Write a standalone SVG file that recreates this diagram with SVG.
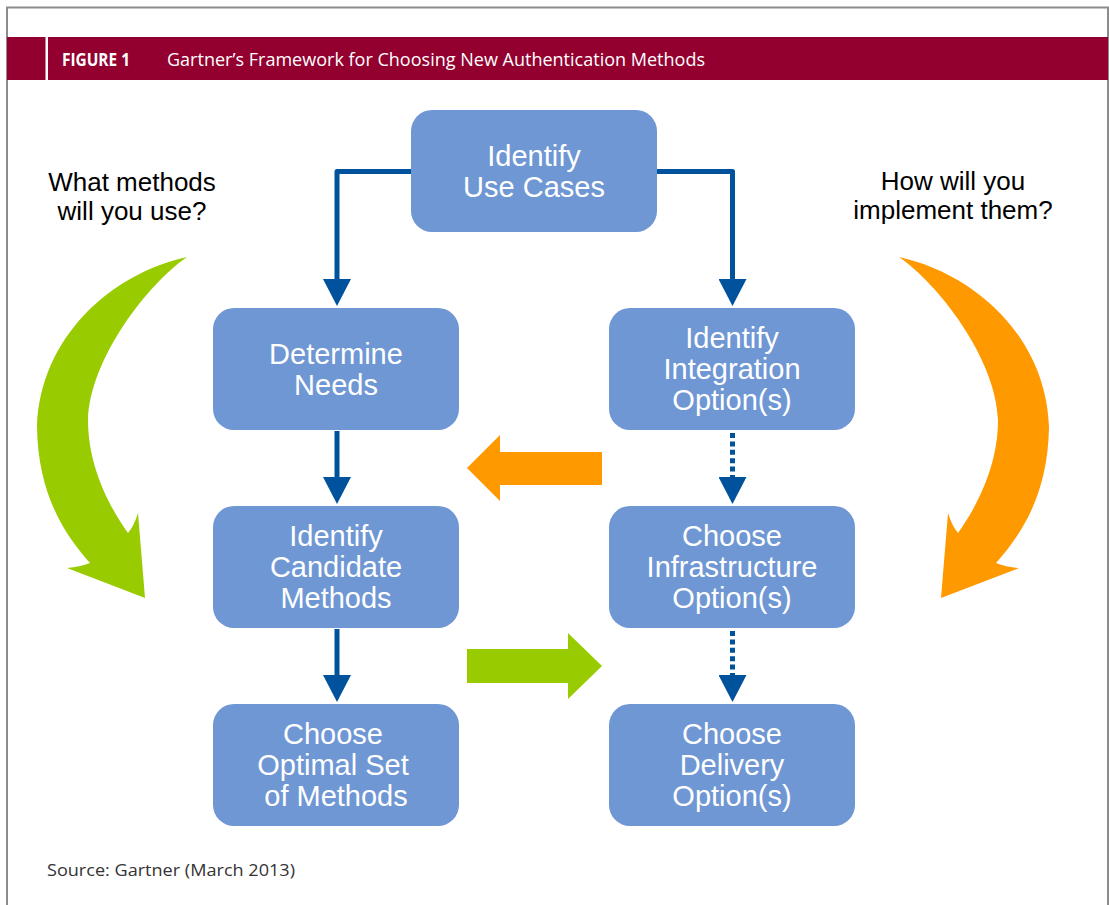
<svg xmlns="http://www.w3.org/2000/svg" width="1109" height="905" viewBox="0 0 1109 905">
  <style>
    .node rect { fill: #6F97D4; }
    .node text { fill: #FFFFFF; font-family: "Liberation Sans", Arial, sans-serif; font-size: 29px; text-anchor: middle; }
    .q { fill: #000000; font-family: "Liberation Sans", Arial, sans-serif; font-size: 26px; text-anchor: middle; }
    .link { fill: none; stroke: #00529C; stroke-width: 5; stroke-linejoin: round; }
    .dash { stroke-dasharray: 5 3.4; }
    .hdr { fill: #FFFFFF; font-family: "Open Sans", "Noto Sans", sans-serif; font-size: 18px; }
    .src { fill: #333333; font-family: "Open Sans", "Noto Sans", sans-serif; font-size: 17px; }
  </style>
  <defs>
    <marker id="head" markerUnits="userSpaceOnUse" markerWidth="27" markerHeight="28" viewBox="0 0 27 28" refX="17" refY="14" orient="auto">
      <path d="M0,0 L27,14 L0,28 Z" fill="#00529C"/>
    </marker>
    <!-- curved sweep arrow, drawn pointing down on the left side -->
    <path id="sweep" d="M187,257 C110,274 40,338 37,427 C38,495 65,535 90,563 Q80,567 67,568 L145,598 L138,513 Q134,526 128,533 C108,505 88,465 88,420 C90,358 148,284 187,257 Z"/>
  </defs>

  <rect x="0" y="0" width="1109" height="905" fill="#FFFFFF"/>

  <!-- frame -->
  <path d="M7,905 V7.5 H1108 V905" fill="none" stroke="#8C8C8C" stroke-width="2"/>

  <!-- title band -->
  <g id="title">
    <rect x="7" y="37" width="1101" height="43" fill="#93002F"/>
    <rect x="45.5" y="37" width="2.5" height="43" fill="#FFFFFF"/>
    <text class="hdr" x="62" y="66" font-weight="bold" textLength="68" lengthAdjust="spacingAndGlyphs">FIGURE 1</text>
    <text class="hdr" x="167" y="66" textLength="538" lengthAdjust="spacingAndGlyphs">Gartner’s Framework for Choosing New Authentication Methods</text>
  </g>

  <!-- side questions -->
  <g id="q-left">
    <text class="q" x="132" y="191">What methods</text>
    <text class="q" x="132" y="220">will you use?</text>
  </g>
  <g id="q-right">
    <text class="q" x="953" y="190">How will you</text>
    <text class="q" x="953" y="219">implement them?</text>
  </g>

  <!-- big curved arrows -->
  <g id="sweep-left">
    <use href="#sweep" fill="#99CC00"/>
  </g>
  <g id="sweep-right">
    <use href="#sweep" fill="#FF9900" transform="translate(1086,0) scale(-1,1)"/>
  </g>

  <!-- horizontal block arrows -->
  <g id="arrow-back">
    <path d="M602,452 V485 H500 V501 L467,468 L500,435 V452 Z" fill="#FF9900"/>
  </g>
  <g id="arrow-forward">
    <path d="M467,649 V683 H568 V699 L602,666 L568,633 V649 Z" fill="#99CC00"/>
  </g>

  <!-- connectors -->
  <g id="connectors">
    <path class="link" d="M411,171.5 H337 V296" marker-end="url(#head)"/>
    <path class="link" d="M657,171.5 H732.5 V296" marker-end="url(#head)"/>
    <path class="link" d="M337,431 V494" marker-end="url(#head)"/>
    <path class="link" d="M337,629 V692" marker-end="url(#head)"/>
    <path class="link dash" d="M732.5,433 V494" marker-end="url(#head)"/>
    <path class="link dash" d="M732.5,631 V692" marker-end="url(#head)"/>
  </g>

  <!-- process steps -->
  <g id="use-cases" class="node">
    <rect x="411" y="110" width="246" height="122" rx="21"/>
    <text x="534" y="166">Identify</text>
    <text x="534" y="197">Use Cases</text>
  </g>
  <g id="needs" class="node">
    <rect x="213" y="308" width="246" height="122" rx="21"/>
    <text x="336" y="364">Determine</text>
    <text x="336" y="395">Needs</text>
  </g>
  <g id="integration" class="node">
    <rect x="609" y="308" width="246" height="122" rx="21"/>
    <text x="732" y="348">Identify</text>
    <text x="732" y="379">Integration</text>
    <text x="732" y="410">Option(s)</text>
  </g>
  <g id="candidates" class="node">
    <rect x="213" y="506" width="246" height="122" rx="21"/>
    <text x="336" y="546">Identify</text>
    <text x="336" y="577">Candidate</text>
    <text x="336" y="608">Methods</text>
  </g>
  <g id="infrastructure" class="node">
    <rect x="609" y="506" width="246" height="122" rx="21"/>
    <text x="732" y="546">Choose</text>
    <text x="732" y="577">Infrastructure</text>
    <text x="732" y="608">Option(s)</text>
  </g>
  <g id="optimal-set" class="node">
    <rect x="213" y="704" width="246" height="122" rx="21"/>
    <text x="333" y="744">Choose</text>
    <text x="333" y="775">Optimal Set</text>
    <text x="336" y="806">of Methods</text>
  </g>
  <g id="delivery" class="node">
    <rect x="609" y="704" width="246" height="122" rx="21"/>
    <text x="732" y="744">Choose</text>
    <text x="732" y="775">Delivery</text>
    <text x="732" y="806">Option(s)</text>
  </g>

  <g id="source">
    <text class="src" x="47" y="876" textLength="248" lengthAdjust="spacingAndGlyphs">Source: Gartner (March 2013)</text>
  </g>
</svg>
